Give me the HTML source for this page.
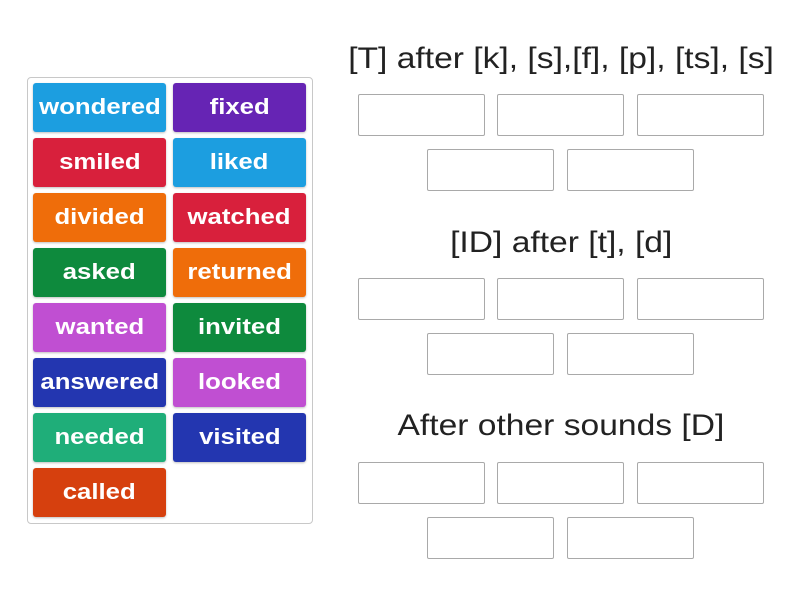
<!DOCTYPE html>
<html><head><style>
body{margin:0;width:800px;height:600px;background:#fff;font-family:"Liberation Sans",sans-serif;position:relative;overflow:hidden}
.panel{position:absolute;left:27px;top:77px;width:284px;height:445px;border:1px solid #c8c8c8;border-radius:4px}
.t{position:absolute;width:133px;height:49px;border-radius:3px;color:#fff;font-weight:bold;font-size:22px;text-align:center;line-height:47px;box-shadow:0 1px 2px rgba(0,0,0,.25)}
.t span{display:inline-block;transform:scaleX(1.17)}
.b{position:absolute;width:125px;height:40px;border:1px solid #a9a9a9;border-radius:2px}
.h{position:absolute;left:340px;width:442px;text-align:center;font-size:30px;color:#222}
.h span{display:inline-block;transform:scaleX(1.12)}
</style></head><body>
<div class="panel"></div>
<div class="t" style="left:33px;top:83px;background:#1c9ee0"><span>wondered</span></div>
<div class="t" style="left:173px;top:83px;background:#6624b4"><span>fixed</span></div>
<div class="t" style="left:33px;top:138px;background:#d8203c"><span>smiled</span></div>
<div class="t" style="left:173px;top:138px;background:#1c9ee0"><span>liked</span></div>
<div class="t" style="left:33px;top:193px;background:#ef6d0a"><span>divided</span></div>
<div class="t" style="left:173px;top:193px;background:#d8203c"><span>watched</span></div>
<div class="t" style="left:33px;top:248px;background:#0e8a3d"><span>asked</span></div>
<div class="t" style="left:173px;top:248px;background:#ef6d0a"><span>returned</span></div>
<div class="t" style="left:33px;top:303px;background:#c04fd2"><span>wanted</span></div>
<div class="t" style="left:173px;top:303px;background:#0e8a3d"><span>invited</span></div>
<div class="t" style="left:33px;top:358px;background:#2336b0"><span>answered</span></div>
<div class="t" style="left:173px;top:358px;background:#c04fd2"><span>looked</span></div>
<div class="t" style="left:33px;top:413px;background:#1fae79"><span>needed</span></div>
<div class="t" style="left:173px;top:413px;background:#2336b0"><span>visited</span></div>
<div class="t" style="left:33px;top:468px;background:#d6400e"><span>called</span></div>

<div class="h" style="top:42px"><span>[T] after [k], [s],[f], [p], [ts], [s]</span></div>
<div class="b" style="left:358px;top:94px"></div><div class="b" style="left:497px;top:94px"></div><div class="b" style="left:637px;top:94px"></div>
<div class="b" style="left:427px;top:149px"></div><div class="b" style="left:567px;top:149px"></div>

<div class="h" style="top:226px"><span>[ID] after [t], [d]</span></div>
<div class="b" style="left:358px;top:278px"></div><div class="b" style="left:497px;top:278px"></div><div class="b" style="left:637px;top:278px"></div>
<div class="b" style="left:427px;top:333px"></div><div class="b" style="left:567px;top:333px"></div>

<div class="h" style="top:409px"><span>After other sounds [D]</span></div>
<div class="b" style="left:358px;top:462px"></div><div class="b" style="left:497px;top:462px"></div><div class="b" style="left:637px;top:462px"></div>
<div class="b" style="left:427px;top:517px"></div><div class="b" style="left:567px;top:517px"></div>
</body></html>
